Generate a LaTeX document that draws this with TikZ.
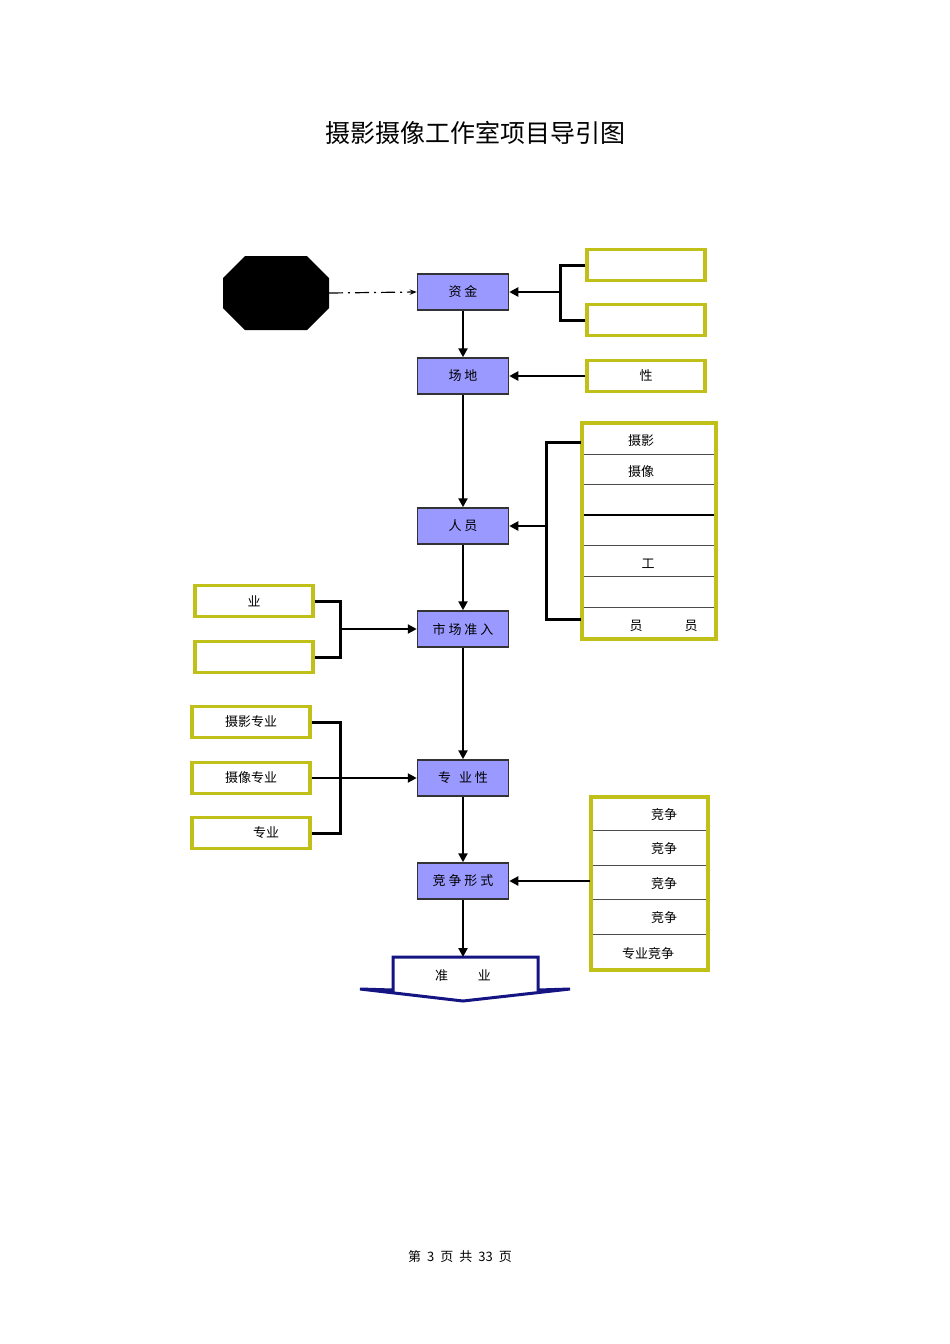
\documentclass[tikz,border=0pt]{standalone}
\usepackage{fontspec}
\setmainfont{Noto Sans CJK SC}
\usetikzlibrary{arrows.meta}
\definecolor{ylw}{RGB}{192,192,24}
\definecolor{blu}{RGB}{153,153,255}
\definecolor{nav}{RGB}{20,20,130}
\begin{document}
\begin{tikzpicture}[x=1pt,y=-1pt,
  main/.style={draw=black!80,line width=1.5pt,fill=blu,minimum width=91pt,minimum height=36pt,font=\fontsize{13}{13}\selectfont},
  yb/.style={draw=ylw,line width=3.5pt,fill=white,minimum width=118pt,minimum height=31pt,font=\fontsize{13}{13}\selectfont},
  arr/.style={line width=2.8pt,-{Triangle[length=9pt,width=9pt]}},
  br/.style={line width=3pt},
  t/.style={font=\fontsize{13}{13}\selectfont}]
\useasboundingbox (0,0) rectangle (950,1344);
\node[font=\fontsize{25}{25}\selectfont] (title) at (475,133) {摄影摄像工作室项目导引图};
\node[font=\fontsize{13}{13}\selectfont] (foot) at (460,1257) {第\hspace{6pt}3\hspace{6pt}页\hspace{6pt}共\hspace{6pt}33\hspace{6pt}页};
% octagon
\fill (245,256) -- (307,256) -- (329,278) -- (329,308) -- (307,330) -- (245,330) -- (223,308) -- (223,278) -- cycle;
\coordinate (oct) at (329,293);
% main boxes
\node[main] (zj) at (463,292) {资 金};
\node[main] (cd) at (463,376) {场 地};
\node[main] (ry) at (463,526) {人 员};
\node[main] (sc) at (463,629) {市 场 准 入};
\node[main] (zy) at (463,778) {专\hspace{8pt}业 性};
\node[main] (jz) at (463,881) {竞 争 形 式};
\draw[line width=1.2pt,dash pattern=on 14pt off 5pt on 2pt off 5pt,-{Stealth[length=7pt]}] (oct) -- (zj.west);
\draw[arr] (zj) -- (cd);
\draw[arr] (cd) -- (ry);
\draw[arr] (ry) -- (sc);
\draw[arr] (sc) -- (zy);
\draw[arr] (zy) -- (jz);
% right boxes
\node[yb] (r1) at (646,265) {};
\node[yb] (r2) at (646,320) {};
\node[yb] (r3) at (646,376) {性};
\draw[br] (r1.west) -| (560,292) |- (r2.west);
\coordinate (b1) at (560,292);
\draw[arr] (b1) -- (zj.east);
\draw[arr] (r3) -- (cd);
% stack for 人员
\draw[ylw,line width=3.5pt,fill=white] (582,423) rectangle (716,639);
\foreach \y in {454,484,515,545,576,607}{\draw[black!70,line width=1pt] (584,\y) -- (714,\y);}
\draw[black,line width=1.5pt] (584,515) -- (714,515);
\node[t] (s1) at (641,441) {摄影};
\node[t] (s2) at (641,472) {摄像};
\node[t] (s5) at (648,564) {工};
\node[t] (s7a) at (636,626) {员};
\node[t] (s7b) at (691,626) {员};
\draw[br] (581,442) -- (546,442) -- (546,619) -- (581,619);
\coordinate (b2) at (546,526);
\draw[arr] (b2) -- (ry.east);
% left boxes for 市场准入
\node[yb] (l1) at (254,601) {业};
\node[yb] (l2) at (254,657) {};
\draw[br] (l1.east) -| (340,629) |- (l2.east);
\coordinate (b3) at (340,629);
\draw[arr] (b3) -- (sc.west);
% left boxes for 专业性
\node[yb] (m1) at (251,722) {摄影专业};
\node[yb] (m2) at (251,778) {摄像专业};
\node[yb] (m3) at (251,833) {\hspace*{30pt}专业};
\draw[br] (m1.east) -| (340,833) -- (m3.east);
\draw[arr] (m2) -- (zy);
% stack for 竞争形式
\draw[ylw,line width=3.5pt,fill=white] (591,797) rectangle (708,970);
\foreach \y in {830,865,899,934}{\draw[black!70,line width=1pt] (593,\y) -- (706,\y);}
\node[t] at (664,815) {竞争};
\node[t] at (664,849) {竞争};
\node[t] at (664,884) {竞争};
\node[t] at (664,918) {竞争};
\node[t] at (648,954) {专业竞争};
\coordinate (b4) at (590,881);
\draw[arr] (b4) -- (jz.east);
% bottom arrow shape
\draw[nav,line width=3pt,fill=white,line join=miter] (393,957) -- (538,957) -- (538,990) -- (570,989) -- (463,1001) -- (360,989) -- (393,990) -- cycle;
\node[t] (zb) at (463,976) {准\hspace{30pt}业};
\coordinate (zbt) at (463,957);
\draw[arr] (jz) -- (zbt);
\end{tikzpicture}
\end{document}
